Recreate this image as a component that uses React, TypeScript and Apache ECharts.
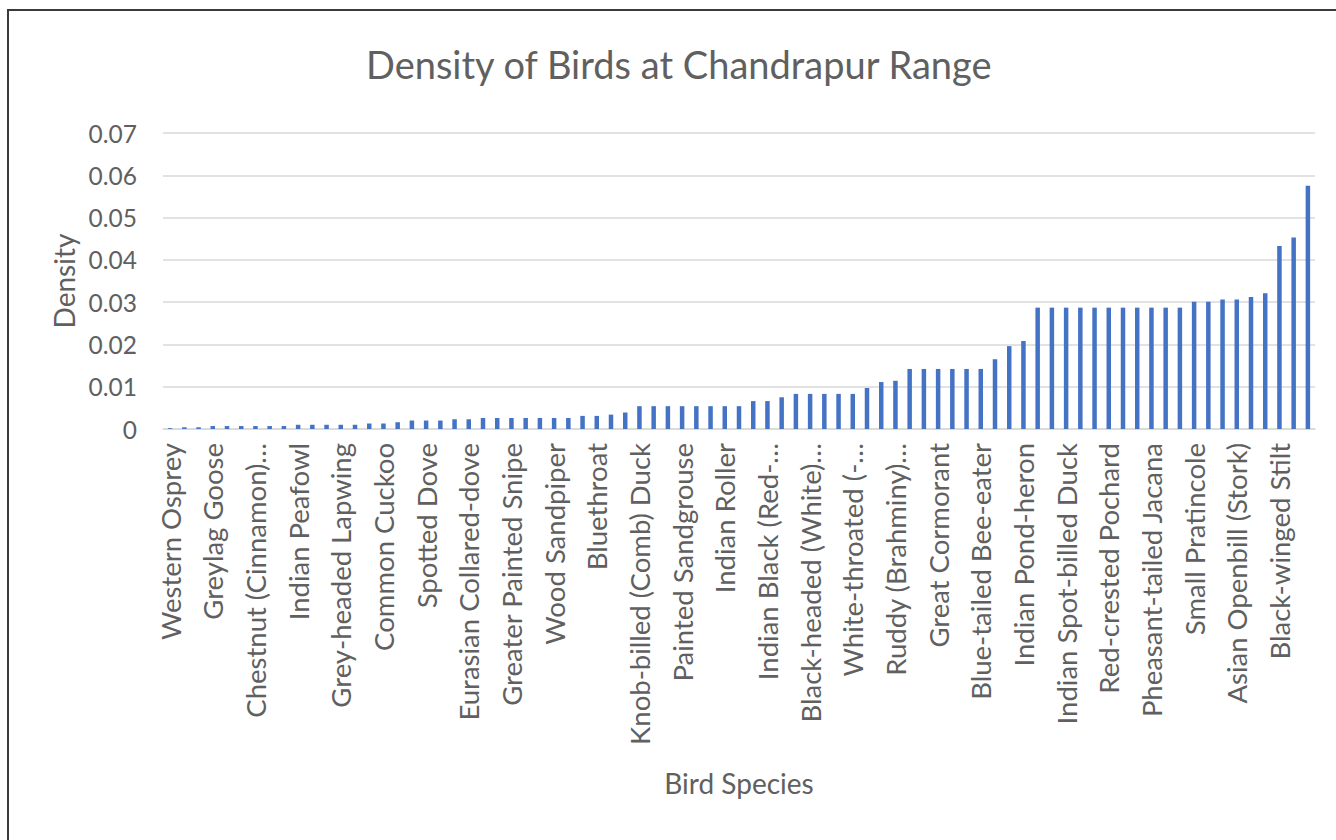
import React, { useEffect, useRef } from "react";
import * as echarts from "echarts";

const chartTitle = "Density of Birds at Chandrapur Range";
const xAxisTitle = "Bird Species";
const yAxisTitle = "Density";

// Names visible on the axis (every third category carries a label)
const labeledSpecies = [
  "Western Osprey",
  "Greylag Goose",
  "Chestnut (Cinnamon)…",
  "Indian Peafowl",
  "Grey-headed Lapwing",
  "Common Cuckoo",
  "Spotted Dove",
  "Eurasian Collared-dove",
  "Greater Painted Snipe",
  "Wood Sandpiper",
  "Bluethroat",
  "Knob-billed (Comb) Duck",
  "Painted Sandgrouse",
  "Indian Roller",
  "Indian Black (Red-…",
  "Black-headed (White)…",
  "White-throated (-…",
  "Ruddy (Brahminy)…",
  "Great Cormorant",
  "Blue-tailed Bee-eater",
  "Indian Pond-heron",
  "Indian Spot-billed Duck",
  "Red-crested Pochard",
  "Pheasant-tailed Jacana",
  "Small Pratincole",
  "Asian Openbill (Stork)",
  "Black-winged Stilt",
];

const densities = [
  0.0002, 0.0004, 0.0004, 0.0007, 0.0007, 0.0007, 0.0007, 0.0007, 0.0007,
  0.001, 0.001, 0.001, 0.001, 0.001, 0.0013, 0.0013, 0.0016, 0.002, 0.002,
  0.002, 0.0023, 0.0023, 0.0026, 0.0026, 0.0026, 0.0026, 0.0026, 0.0026,
  0.0026, 0.0031, 0.0031, 0.0034, 0.0039, 0.0054, 0.0054, 0.0054, 0.0054,
  0.0054, 0.0054, 0.0054, 0.0054, 0.0066, 0.0066, 0.0075, 0.0083, 0.0083,
  0.0083, 0.0083, 0.0083, 0.0097, 0.0111, 0.0114, 0.0142, 0.0142, 0.0142,
  0.0142, 0.0142, 0.0142, 0.0165, 0.0196, 0.0208, 0.0287, 0.0287, 0.0287,
  0.0287, 0.0287, 0.0287, 0.0287, 0.0287, 0.0287, 0.0287, 0.0287, 0.0301,
  0.0301, 0.0306, 0.0306, 0.0312, 0.0321, 0.0433, 0.0453, 0.0575,
];

const yTicks = { min: 0, max: 0.07, interval: 0.01 };

const categories = densities.map((_, i) =>
  i % 3 === 0 ? labeledSpecies[i / 3] : ""
);

const FONT = "Lato";
const GREY = "#606060";

export default function App() {
  const ref = useRef<HTMLDivElement>(null);
  useEffect(() => {
    if (!ref.current) return;
    const chart = echarts.init(ref.current, null, { renderer: "svg" });
    chart.setOption({
      animation: false,
      backgroundColor: "#ffffff",
      title: {
        text: chartTitle,
        left: 361,
        top: 40,
        textStyle: {
          fontFamily: FONT,
          fontSize: 38,
          fontWeight: "normal",
          color: GREY,
        },
      },
      graphic: [
        {
          type: "rect",
          shape: { x: 8, y: 10, width: 1400, height: 900 },
          style: { fill: "none", stroke: "#3a3a3a", lineWidth: 2 },
          silent: true,
        },
      ],
      grid: { left: 163, right: 21, top: 133, bottom: 411 },
      xAxis: {
        type: "category",
        data: categories,
        name: xAxisTitle,
        nameLocation: "middle",
        nameGap: 340,
        nameTextStyle: { fontFamily: FONT, fontSize: 28, color: GREY },
        axisLine: { lineStyle: { color: "#D9D9D9", width: 1.5 } },
        axisTick: { show: false },
        axisLabel: {
          interval: 2,
          rotate: 90,
          margin: 14,
          fontFamily: FONT,
          fontSize: 27.5,
          color: GREY,
        },
      },
      yAxis: {
        type: "value",
        min: yTicks.min,
        max: yTicks.max,
        interval: yTicks.interval,
        name: yAxisTitle,
        nameLocation: "middle",
        nameGap: 83,
        nameTextStyle: { fontFamily: FONT, fontSize: 28, color: GREY },
        axisLine: { show: false },
        axisTick: { show: false },
        axisLabel: {
          margin: 26,
          fontFamily: FONT,
          fontSize: 24.5,
          color: GREY,
          formatter: (v: number) => (v === 0 ? "0" : v.toFixed(2)),
        },
        splitLine: { lineStyle: { color: "#D9D9D9", width: 1.5 } },
      },
      series: [
        {
          type: "bar",
          data: densities,
          barWidth: 4.5,
          itemStyle: { color: "#4472C4" },
        },
      ],
    });
    return () => chart.dispose();
  }, []);
  return (
    <div
      ref={ref}
      style={{ position: "absolute", left: 0, top: 0, width: 1336, height: 840 }}
    />
  );
}
